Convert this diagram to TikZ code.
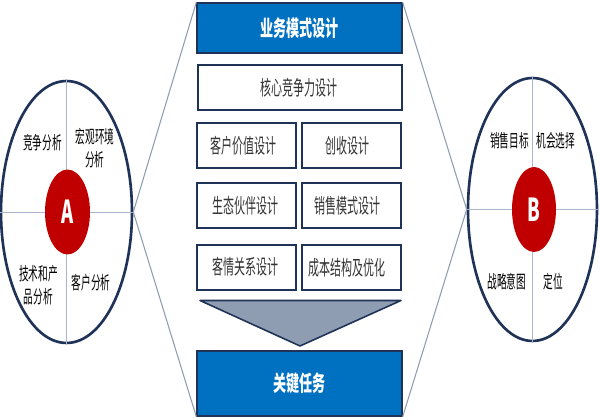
\documentclass[tikz,border=0pt]{standalone}
\usepackage{fontspec}
\usetikzlibrary{shapes.geometric}
\newfontfamily\cjk{Noto Sans CJK SC}
\definecolor{navy}{HTML}{1F3257}
\definecolor{blueb}{HTML}{0070C0}
\definecolor{redc}{HTML}{C00000}
\definecolor{pale}{HTML}{A9B6CE}
\definecolor{slate}{HTML}{8F9DB2}
\definecolor{txt}{HTML}{333333}
\newcommand{\sq}[2][0.54]{\scalebox{#1}[1]{#2}}
\newcommand{\tx}[3]{\raisebox{#2}{\makebox[0pt]{\hspace*{#1}\sq{#3}}}}
\tikzset{
 x=0.02cm,y=-0.02cm,
 outer/.style={draw=navy,line width=1.5pt,ellipse,fill=white,inner sep=0pt},
 core/.style={fill=redc,ellipse,inner sep=0pt,text=white,font=\cjk\fontsize{18}{18}\selectfont\bfseries},
 wbox/.style={draw=navy,line width=0.8pt,fill=white,inner sep=0pt,text=txt,font=\cjk\fontsize{11.6}{13}\selectfont},
 bbox/.style={draw=navy,line width=0.8pt,fill=blueb,inner sep=0pt,text=white,font=\cjk\fontsize{12.4}{14}\selectfont\bfseries},
 lab/.style={inner sep=0pt,text=black,align=center,font=\cjk\fontsize{10.2}{13.4}\selectfont},
 thin line/.style={draw=pale,line width=0.55pt},
 fan/.style={draw=slate,line width=0.6pt},
}
\begin{document}
\begin{tikzpicture}
\useasboundingbox (0,0) rectangle (600,418);
\fill[white] (0,0) rectangle (600,418);
% centre boxes
\node[bbox,minimum width=4.1cm,minimum height=1cm] (top) at (299.5,28) {\sq[0.6]{业务模式设计}};
\node[wbox,minimum width=4.08cm,minimum height=0.9cm] (corebox) at (300,87.5) {\tx{-1pt}{1pt}{核心竞争力设计}};
\node[wbox,minimum width=1.98cm,minimum height=0.9cm] (b1) at (246.5,145.5) {\tx{-3pt}{0.7pt}{客户价值设计}};
\node[wbox,minimum width=1.98cm,minimum height=0.9cm] (b2) at (351.5,145.5) {\tx{-5pt}{0.7pt}{创收设计}};
\node[wbox,minimum width=1.98cm,minimum height=0.9cm] (b3) at (246.5,205.5) {\tx{-1pt}{0.5pt}{生态伙伴设计}};
\node[wbox,minimum width=1.98cm,minimum height=0.9cm] (b4) at (351.5,205.5) {\tx{-5pt}{0.5pt}{销售模式设计}};
\node[wbox,minimum width=1.98cm,minimum height=0.9cm] (b5) at (246.5,267.5) {\tx{-1pt}{1.5pt}{客情关系设计}};
\node[wbox,minimum width=1.98cm,minimum height=0.9cm] (b6) at (351.5,267.5) {\tx{-5pt}{-1pt}{成本结构及优化}};
\node[bbox,minimum width=4.1cm,minimum height=1.3cm] (bottom) at (299.5,383.5) {\sq[0.6]{关键任务}};
\draw[navy,line width=0.9pt,fill=slate,line join=round] (200,300.5) -- (401,300.5) -- (300,346) -- cycle;
% left ellipse
\node[outer,minimum width=2.62cm,minimum height=5.24cm] (A) at (66.5,212) {};
\draw[thin line] (A.north) -- (A.south);
\draw[thin line] (A.west) -- (A.east);
\node[core,minimum width=0.9cm,minimum height=1.7cm] (Ac) at (67.5,212) {\sq[0.58]{A}};
\node[lab] (a1) at (42.5,143) {\sq{竞争分析}};
\node[lab] (a2) at (95,148) {\sq{宏观环境}\\\sq{分析}};
\node[lab] (a3) at (38.5,285) {\sq{技术和产}\\\sq{品分析}};
\node[lab] (a4) at (91,283) {\sq{客户分析}};
% right ellipse
\node[outer,minimum width=2.58cm,minimum height=5.26cm] (B) at (532.5,209.5) {};
\draw[thin line] (B.north) -- (B.south);
\draw[thin line] (B.west) -- (B.east);
\node[core,minimum width=0.88cm,minimum height=1.7cm] (Bc) at (534,209.5) {\sq[0.58]{B}};
\node[lab] (b1t) at (509.5,141) {\sq{销售目标}};
\node[lab] (b2t) at (556,141) {\sq{机会选择}};
\node[lab] (b3t) at (507,282) {\sq{战略意图}};
\node[lab] (b4t) at (553.5,282) {\sq{定位}};
% fan lines
\draw[fan] (A.east) -- (top.north west);
\draw[fan] (A.east) -- (bottom.south west);
\draw[fan] (B.west) -- (top.north east);
\draw[fan] (B.west) -- (bottom.south east);
\end{tikzpicture}
\end{document}
